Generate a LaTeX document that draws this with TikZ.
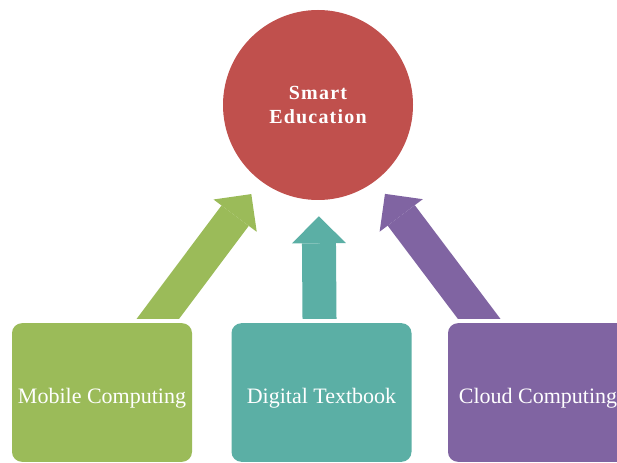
\documentclass[tikz,border=0pt]{standalone}
\usepackage{fontspec}
\setmainfont{Liberation Serif}
\newfontfamily\headfont[LetterSpace=6]{Liberation Serif}
\usetikzlibrary{arrows.meta}
\definecolor{eduRed}{HTML}{C0504D}
\definecolor{eduGreen}{HTML}{9BBB59}
\definecolor{eduTeal}{HTML}{5BAFA5}
\definecolor{eduPurple}{HTML}{8064A2}

\begin{document}
\begin{tikzpicture}[x=0.75pt,y=-0.75pt,
	box/.style={rectangle,rounded corners=7.5pt,fill=#1,text=white,minimum width=135pt,minimum height=104pt,inner sep=0,text height=15.8pt,text depth=0pt,font=\fontsize{16.5}{20}\selectfont},
	blockarrow/.style={draw=#1,line width=25.5pt,-{Triangle[width=40.5pt,length=20.25pt,line width=0pt,fill=#1]},shorten >=12pt,shorten <=-12pt,
		preaction={draw=#1,-,shorten >=27pt}}]
	\useasboundingbox (0,0) rectangle (617,463);
	\clip (0,0) rectangle (617,463);
	\node[circle,fill=eduRed,minimum size=142.5pt,inner sep=0,text=white,align=center,font=\headfont\bfseries\fontsize{15}{18}\selectfont] (1) at (318,105) {Smart\\Education};
	\node[box=eduGreen] (2) at (102,392.5) {Mobile Computing};
	\node[box=eduTeal] (3) at (321.5,392.5) {Digital Textbook};
	\node[box=eduPurple] (4) at (538,392.5) {Cloud Computing};
	\coordinate (2a) at (158.5,318);
	\coordinate (3a) at (319.5,318);
	\coordinate (4a) at (478.5,318);
	\begin{scope}
		\clip (0,0) rectangle (617,318);
		\draw[blockarrow=eduGreen] (2a) -- (1);
		\draw[blockarrow=eduTeal] (3a) -- (1);
		\draw[blockarrow=eduPurple] (4a) -- (1);
	\end{scope}
\end{tikzpicture}
\end{document}
